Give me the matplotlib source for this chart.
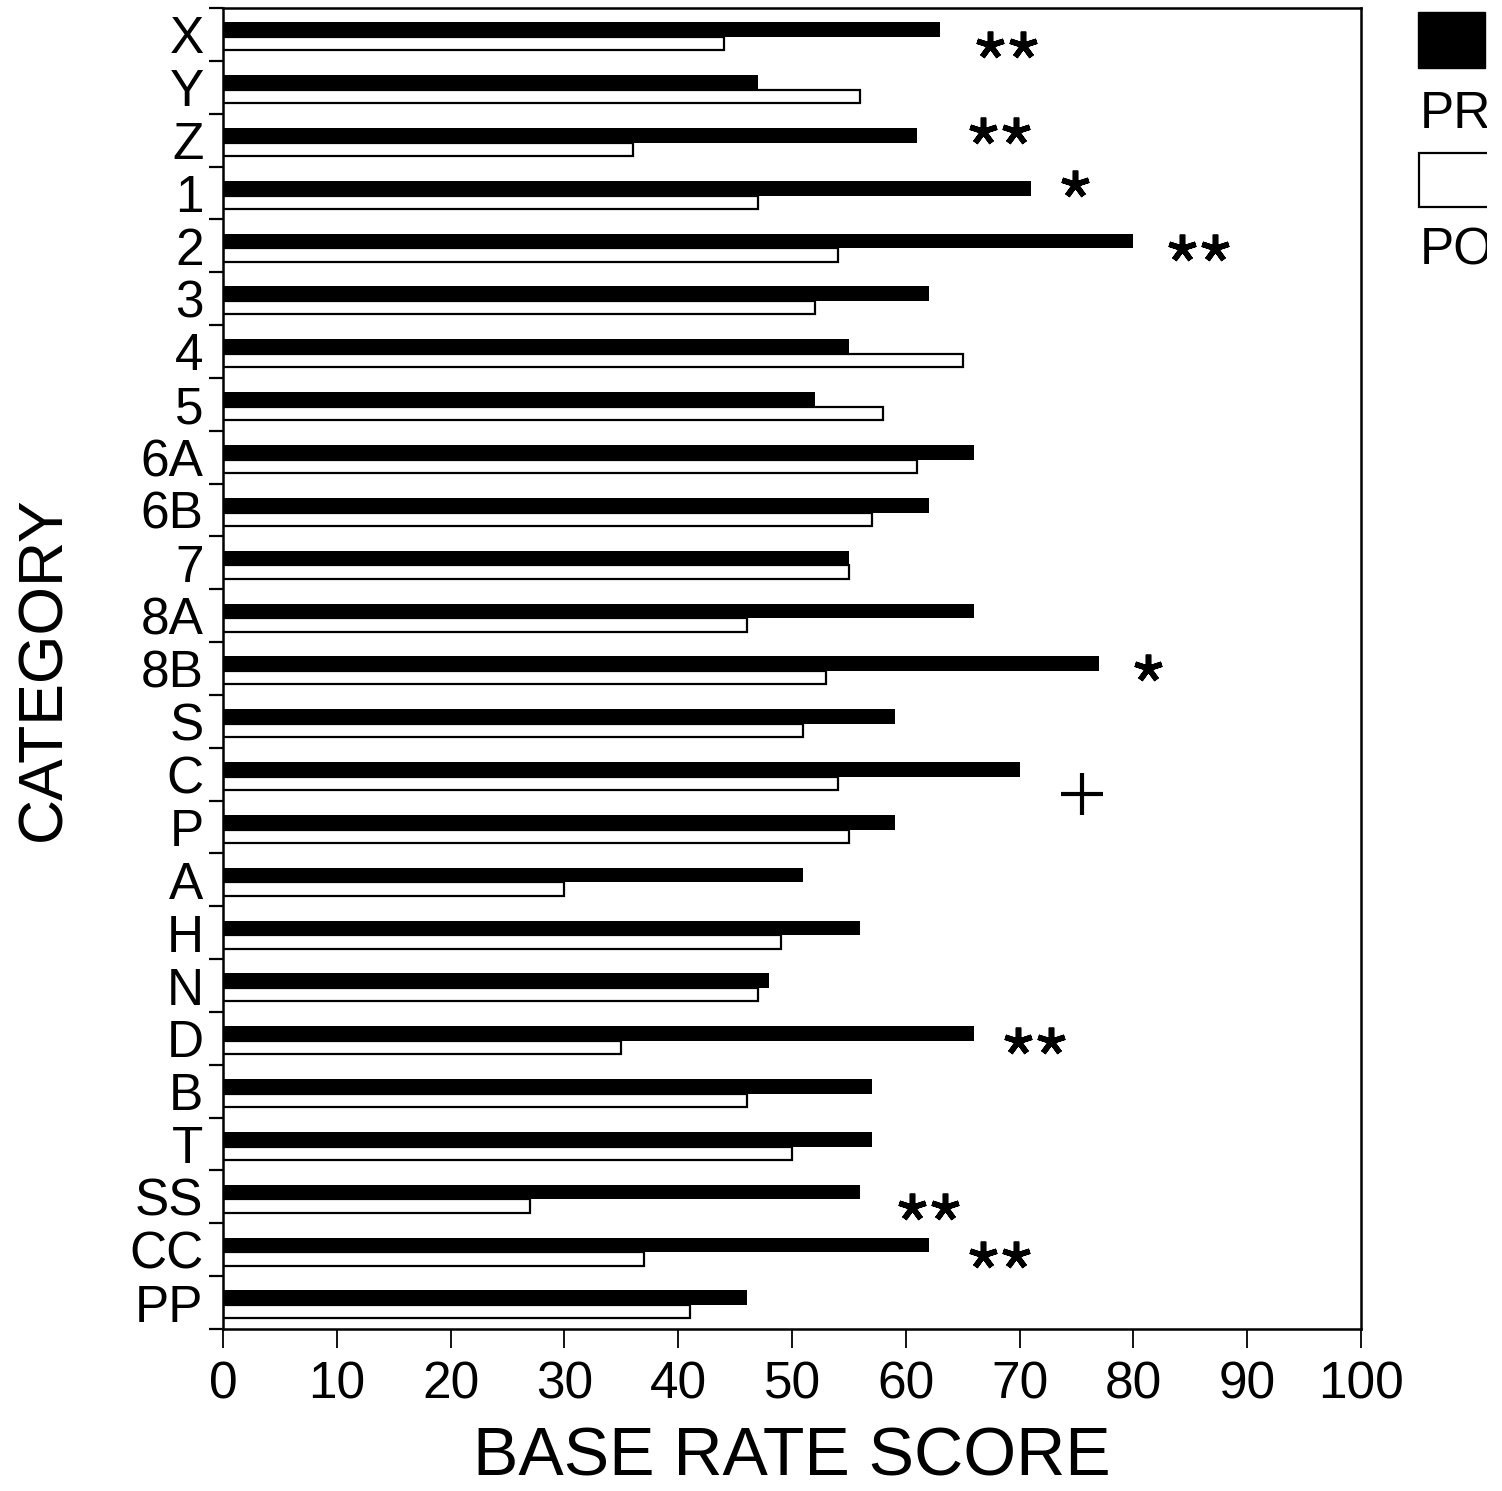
import numpy as np
import matplotlib
matplotlib.use('Agg')
import matplotlib.pyplot as plt
from matplotlib.patches import Rectangle

plt.rcParams['font.family'] = ['Liberation Sans', 'DejaVu Sans']

# data
categories = ['X', 'Y', 'Z', '1', '2', '3', '4', '5', '6A', '6B', '7', '8A', '8B',
              'S', 'C', 'P', 'A', 'H', 'N', 'D', 'B', 'T', 'SS', 'CC', 'PP']
pre = [63, 47, 61, 71, 80, 62, 55, 52, 66, 62, 55, 66, 77,
       59, 70, 59, 51, 56, 48, 66, 57, 57, 56, 62, 46]
post = [44, 56, 36, 47, 54, 52, 65, 58, 61, 57, 55, 46, 53,
        51, 54, 55, 30, 49, 47, 35, 46, 50, 27, 37, 41]
series_names = ['PRE', 'POST']

# significance marks: category -> symbol
sig = {'X': '**', 'Z': '**', '1': '*', '2': '**', '8B': '*', 'C': '+',
       'D': '**', 'SS': '**', 'CC': '**'}
# placement of the marks (x gap from the PRE bar end, y shift in rows)
sig_pos = {'X': (5.8, 0.19), 'Z': (7.2, -0.18), '1': (3.9, -0.17),
           '2': (5.7, 0.04), '8B': (4.3, 0.0), 'C': (5.5, 0.38),
           'D': (5.3, 0.05), 'SS': (6.0, 0.2), 'CC': (6.2, 0.1)}

fig = plt.figure(figsize=(15.02, 14.91), dpi=100)
ax = fig.add_axes([0.1485, 0.1087, 0.7577, 0.8859])

y = np.arange(len(categories))
ax.barh(y - 0.09, pre, height=0.28, color='black', edgecolor='black', linewidth=0)
ax.barh(y + 0.175, post, height=0.25, color='white', edgecolor='black', linewidth=1.6)

for i, cat in enumerate(categories):
    if cat not in sig:
        continue
    dx, dy = sig_pos[cat]
    xc = pre[i] + dx
    yc = i + dy
    s = sig[cat]
    if s == '+':
        ax.plot([xc], [yc], marker='+', markersize=30, mew=3, color='black')
    else:
        n = len(s)
        xs = xc + (np.arange(n) - (n - 1) / 2) * 2.9
        ax.plot(xs, [yc] * n, linestyle='none', marker=(5, 2, 0),
                markersize=20, mew=4, color='black')

ax.set_xlim(0, 100)
ax.set_ylim(len(categories) - 0.5, -0.5)
ax.set_xticks(np.arange(0, 101, 10))
ax.set_yticks(y)
ax.set_yticklabels(categories)
ax.set_yticks(np.arange(-0.5, len(categories), 1), minor=True)
ax.tick_params(axis='y', which='major', length=0, pad=14, labelsize=37)
ax.tick_params(axis='y', which='minor', length=10, width=1.6, direction='out')
ax.tick_params(axis='x', length=14, width=1.3, direction='out', pad=9, labelsize=37)
for sp in ax.spines.values():
    sp.set_linewidth(1.8)

ax.set_xlabel('BASE RATE SCORE', fontsize=49, labelpad=11)
ax.set_ylabel('CATEGORY', fontsize=45, labelpad=40)

# legend drawn at the right edge (cut off by the page)
fig.add_artist(Rectangle((0.944, 0.9544), 0.0446, 0.0376, transform=fig.transFigure,
                         facecolor='black', edgecolor='black'))
fig.text(0.9454, 0.914, series_names[0], fontsize=37, ha='left', va='baseline')
fig.add_artist(Rectangle((0.9446, 0.8612), 0.1, 0.0362, transform=fig.transFigure,
                         facecolor='white', edgecolor='black', linewidth=1.6))
fig.text(0.9454, 0.8223, series_names[1], fontsize=37, ha='left', va='baseline')
fig.add_artist(Rectangle((0.99, 0), 0.01, 1, transform=fig.transFigure,
                         facecolor='white', edgecolor='none', zorder=20))

fig.savefig('out.png', dpi=100)
